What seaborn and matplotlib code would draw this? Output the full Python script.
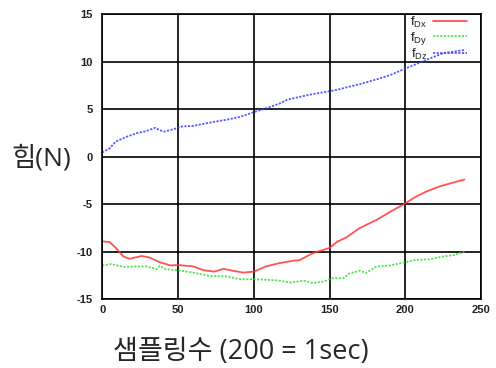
import matplotlib
matplotlib.use("Agg")
import matplotlib.pyplot as plt
import seaborn as sns
import pandas as pd

# Force components measured over the sampling index (200 samples = 1 s)
x_dx = [0, 5, 9, 14, 18, 26, 31, 38, 45, 50, 60, 67, 74, 80, 86, 93, 100,
        108, 117, 126, 130, 139, 150, 155, 161, 170, 181, 190, 200, 207,
        214, 223, 232, 239]
f_dx = [-8.9, -9.0, -9.6, -10.5, -10.75, -10.45, -10.6, -11.1, -11.45,
        -11.4, -11.55, -11.95, -12.1, -11.8, -12.0, -12.2, -12.1, -11.55,
        -11.2, -10.95, -10.9, -10.15, -9.6, -8.95, -8.5, -7.5, -6.65, -5.8,
        -4.9, -4.2, -3.65, -3.1, -2.7, -2.4]

x_dy = [0, 6, 14, 23, 29, 34, 36, 38, 42, 50, 60, 71, 82, 91, 100, 108,
        117, 124, 133, 139, 146, 152, 159, 163, 170, 174, 181, 190, 200,
        207, 216, 225, 232, 239]
f_dy = [-11.45, -11.3, -11.6, -11.55, -11.55, -11.75, -11.85, -11.5, -11.85,
        -11.95, -12.2, -12.55, -12.6, -12.9, -12.9, -12.95, -13.05, -13.25,
        -13.05, -13.3, -13.15, -12.8, -12.8, -12.3, -12.0, -12.25, -11.55,
        -11.45, -11.1, -10.85, -10.8, -10.5, -10.35, -10.0]

x_dz = [0, 5, 9, 16, 23, 29, 35, 38, 41, 47, 53, 60, 71, 82, 91, 100, 108,
        117, 122, 130, 139, 148, 155, 161, 170, 181, 190, 200, 207, 216,
        225, 239]
f_dz = [0.45, 0.9, 1.6, 2.1, 2.5, 2.7, 3.05, 2.8, 2.65, 2.9, 3.2, 3.25,
        3.6, 3.9, 4.2, 4.7, 5.1, 5.6, 6.0, 6.3, 6.6, 6.85, 7.05, 7.3, 7.65,
        8.15, 8.6, 9.3, 9.75, 10.35, 10.9, 11.25]

series_names = [r"$\mathrm{f}_{\mathrm{Dx}}$", r"$\mathrm{f}_{\mathrm{Dy}}$",
                r"$\mathrm{f}_{\mathrm{Dz}}$"]
x_ticks = [0, 50, 100, 150, 200, 250]
y_ticks = [-15, -10, -5, 0, 5, 10, 15]
x_label = "샘플링수 (200 = 1sec)"
y_label = "힘(N)"

df = pd.concat([
    pd.DataFrame({"sample": x_dx, "force": f_dx, "comp": series_names[0]}),
    pd.DataFrame({"sample": x_dy, "force": f_dy, "comp": series_names[1]}),
    pd.DataFrame({"sample": x_dz, "force": f_dz, "comp": series_names[2]}),
], ignore_index=True)

sns.set_theme(style="white")
plt.rcParams["font.family"] = ["Open Sans", "Noto Sans CJK KR", "DejaVu Sans"]
plt.rcParams["mathtext.fontset"] = "custom"
plt.rcParams["mathtext.rm"] = "Liberation Sans"
plt.rcParams["mathtext.it"] = "Liberation Sans"
plt.rcParams["mathtext.bf"] = "Liberation Sans:bold"

fig = plt.figure(figsize=(4.96, 3.68), dpi=100)
ax = fig.add_axes([0.206, 0.187, 0.764, 0.774])

palette = {series_names[0]: "#ff3535",
           series_names[1]: "#33e033",
           series_names[2]: "#3a3aff"}
sns.lineplot(data=df, x="sample", y="force", hue="comp", palette=palette,
             ax=ax, legend=False, sort=False, estimator=None)

styles = [("-", 1.3, 0.85), ((0, (1.2, 0.8)), 1.3, 0.85), ((0, (1.2, 0.8)), 1.3, 0.85)]
for line, (ls, lw, a) in zip(ax.get_lines(), styles):
    line.set_linestyle(ls)
    line.set_linewidth(lw)
    line.set_alpha(a)

ax.set_xlim(0, 250)
ax.set_ylim(-15, 15)
ax.set_xticks(x_ticks)
ax.set_yticks(y_ticks)
narrow = ["Liberation Sans Narrow", "Liberation Sans"]
tick_font = {"family": narrow, "size": 8, "weight": "bold"}
ax.set_xticklabels([str(t) for t in x_ticks], fontdict=tick_font)
ax.set_yticklabels([str(t) for t in y_ticks], fontdict=tick_font)
ax.tick_params(axis="both", length=0, pad=4, colors="#222222")
ax.tick_params(axis="y", pad=7)
ax.grid(True, color="black", linewidth=1.2)
ax.set_axisbelow(True)
for sp in ax.spines.values():
    sp.set_color("black")
    sp.set_linewidth(1.2)
ax.set_xlabel("")
ax.set_ylabel("")

handles = ax.get_lines()
leg = ax.legend(handles, series_names, loc="upper right",
                bbox_to_anchor=(467 / 496, 1 - 15 / 368),
                bbox_transform=fig.transFigure, frameon=False, markerfirst=False,
                handlelength=2.6, handletextpad=0.4, labelspacing=0.0,
                borderpad=0, borderaxespad=0, fontsize=9.5)
for t in leg.get_texts():
    t.set_color("#222222")

fig.text(241 / 496, 1 - 352 / 368, x_label, ha="center", va="center", fontsize=19.5)
fig.text(41 / 496, 1 - 158 / 368, y_label, ha="center", va="center", fontsize=19)

fig.savefig("out.png", dpi=100)
